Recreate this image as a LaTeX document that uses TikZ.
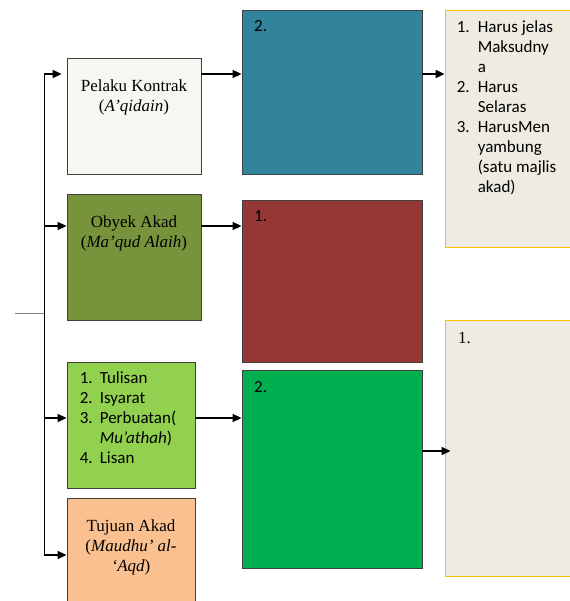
\documentclass[tikz,border=0pt]{standalone}
\usepackage{fontspec}
\setmainfont{Liberation Serif}
\newfontfamily\calibri{Carlito}
\usetikzlibrary{arrows.meta,positioning}

\definecolor{pelaku}{HTML}{F8F6F0}
\definecolor{obyek}{HTML}{77933C}
\definecolor{sighat}{HTML}{92D050}
\definecolor{tujuan}{HTML}{FAC090}
\definecolor{biru}{HTML}{31849B}
\definecolor{merah}{HTML}{953735}
\definecolor{hijau}{HTML}{00B050}
\definecolor{krem}{HTML}{EEECE1}
\definecolor{kuning}{HTML}{FFC000}

\begin{document}
\begin{tikzpicture}[x=1pt,y=-1pt,
	box/.style={draw=black!75,line width=0.8pt,inner sep=0pt},
	note/.style={draw=kuning,fill=krem,line width=0.8pt,inner sep=0pt},
	txt/.style={inner sep=0pt,font=\fontsize{17}{20}\selectfont},
	lst/.style={inner sep=0pt,font=\calibri\fontsize{17}{20}\selectfont},
	num/.style={inner sep=0pt,anchor=base west,font=\calibri\fontsize{17}{20}\selectfont},
	arr/.style={-{Triangle[length=9pt,width=8pt]},line width=1.6pt}]

	\useasboundingbox (0,0) rectangle (569,601);

	\node[box,fill=pelaku,minimum width=134pt,minimum height=116pt] (A) at (134,116) {};
	\node[box,fill=obyek,minimum width=134pt,minimum height=126pt] (B) at (134,257) {};
	\node[box,fill=sighat,minimum width=128pt,minimum height=126pt] (C) at (131,425) {};
	\node[box,fill=tujuan,minimum width=128pt,minimum height=112pt] (D) at (131,554) {};

	\node[box,fill=biru,minimum width=180pt,minimum height=164pt] (T) at (332,92) {};
	\node[box,fill=merah,minimum width=180pt,minimum height=162pt] (R) at (332,281) {};
	\node[box,fill=hijau,minimum width=180pt,minimum height=198pt] (G) at (332,469) {};

	\node[note,minimum width=130pt,minimum height=237pt] (E1) at (510,128.5) {};
	\node[note,minimum width=130pt,minimum height=256pt] (E2) at (510,448) {};

	\node[txt,below=20pt of A.north] (Atxt) {\begin{tabular}{@{}c@{}}Pelaku Kontrak\\(\textit{A’qidain})\end{tabular}};
	\node[txt,below=20pt of B.north] (Btxt) {\begin{tabular}{@{}c@{}}Obyek Akad\\(\textit{Ma’qud Alaih})\end{tabular}};
	\node[txt,below=20pt of D.north] (Dtxt) {\begin{tabular}{@{}c@{}}Tujuan Akad\\(\textit{Maudhu’ al-}\\\textit{‘Aqd})\end{tabular}};

	\node[lst,below right=8pt and 13pt of C.north west] (Ctxt) {\begin{tabular}{@{}p{20pt}@{}l@{}}
		1. & Tulisan\\
		2. & Isyarat\\
		3. & Perbuatan(\\
		   & \textit{Mu’athah})\\
		4. & Lisan
	\end{tabular}};
	\node[lst,below right=9pt and 12pt of E1.north west] (E1txt) {\begin{tabular}{@{}p{21pt}@{}l@{}}
		1. & Harus jelas\\
		   & Maksudny\\
		   & a\\
		2. & Harus\\
		   & Selaras\\
		3. & HarusMen\\
		   & yambung\\
		   & (satu majlis\\
		   & akad)
	\end{tabular}};

	\node[num] (Tnum) at (254,32) {2.};
	\node[num] (Rnum) at (254,222) {1.};
	\node[num] (Gnum) at (254,392) {2.};
	\node[num,font=\fontsize{17}{20}\selectfont] (E2num) at (458,343) {1.};

	\coordinate (tA) at (44,74);
	\coordinate (tB) at (44,226);
	\coordinate (tC) at (44,418);
	\coordinate (tD) at (44,555);
	\coordinate (hE) at (44,451);
	\coordinate (stub) at (15,313);

	\draw[line width=0.8pt] (tA) -- (tD);
	\draw[gray,line width=0.8pt] (stub) -- (stub -| tA);

	\path[arr]

	(tA) edge [shorten >=5pt] (tA -| A.west)
	(tB) edge (tB -| B.west)
	(tC) edge (tC -| C.west)
	(tD) edge (tD -| D.west)

	(tA -| A.east) edge (tA -| T.west)
	(tB -| B.east) edge (tB -| R.west)
	(tC -| C.east) edge (tC -| G.west)

	(tA -| T.east) edge (tA -| E1.west)
	(hE -| G.east) edge [shorten >=-6pt] (hE -| E2.west);

\end{tikzpicture}
\end{document}
